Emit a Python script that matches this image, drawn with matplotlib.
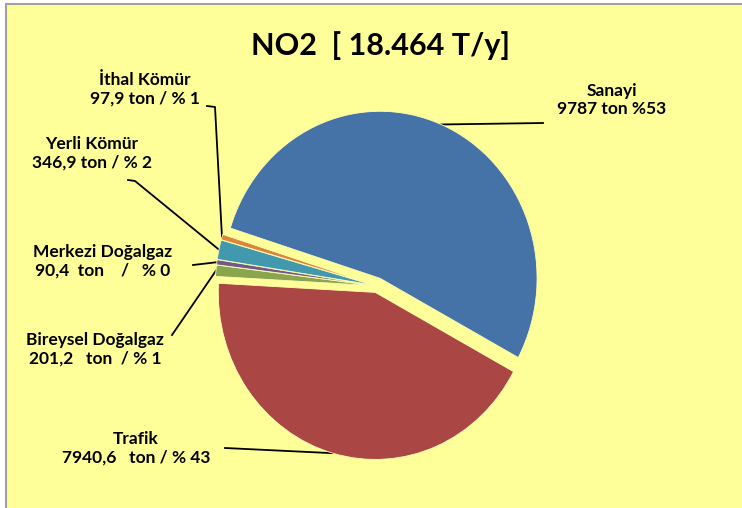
import numpy as np
import matplotlib
matplotlib.use("Agg")
import matplotlib.pyplot as plt
from matplotlib.patches import Rectangle

plt.rcParams['font.family'] = ['Lato', 'DejaVu Sans']

# data
sources = ['Sanayi', 'Trafik', 'Bireysel Doğalgaz', 'Merkezi Doğalgaz', 'Yerli Kömür', 'İthal Kömür']
tons = [9787, 7940.6, 201.2, 90.4, 346.9, 97.9]
value_text = ['9787 ton %53', '7940,6   ton / % 43', '201,2   ton  / % 1',
              '90,4  ton    /   % 0', '346,9 ton / % 2', '97,9 ton / % 1']
colors = ['#4572A7', '#AA4643', '#89A54E', '#71588F', '#4198AF', '#DB843D']
explode = [0.05, 0.04, 0.03, 0.03, 0.03, 0.03]
title = 'NO2  [ 18.464 T/y]'

# layout in pixels (from top-left)
W, H = 742, 508
label_pos = [(612, 100), (136, 448), (95, 349), (103, 261), (92, 153), (145, 89)]
leader_start = [[(543, 123)], [(225, 448)], [(172, 335)], [(193, 265)],
                [(128, 180), (135, 181)], [(207, 106), (215, 107)]]

fig = plt.figure(figsize=(W / 100, H / 100), dpi=100)
fig.patch.set_facecolor('white')

# background axes in pixel coordinates
bg = fig.add_axes([0, 0, 1, 1], zorder=0)
bg.set_xlim(0, W)
bg.set_ylim(H, 0)
bg.axis('off')
bg.add_patch(Rectangle((6, 4), W, H, facecolor='#FFFF99', edgecolor='#A0A0A0', lw=1.5))

# pie axes: slightly taller than wide like the original
cx, cy = 377, 286
rx, ry = 157, 167
k = 1.2
ax = fig.add_axes([(cx - k * rx) / W, (H - cy - k * ry) / H, 2 * k * rx / W, 2 * k * ry / H], zorder=1)
wedges, _ = ax.pie(tons, colors=colors, explode=explode, startangle=162.5, counterclock=False,
                   wedgeprops=dict(edgecolor='#FFFFB0', linewidth=0.6))
ax.set_aspect('auto')
ax.set_xlim(-k, k)
ax.set_ylim(-k, k)
ax.patch.set_alpha(0)

fig.text(380 / W, 1 - 46 / H, title, ha='center', va='center', fontsize=22,
         fontweight='bold', color='black')

inv = bg.transData.inverted()
for i, w in enumerate(wedges):
    th = np.deg2rad((w.theta1 + w.theta2) / 2)
    x0, y0 = w.center
    rim = inv.transform(ax.transData.transform((x0 + w.r * np.cos(th), y0 + w.r * np.sin(th))))
    pts = leader_start[i] + [tuple(rim)]
    bg.plot([p[0] for p in pts], [p[1] for p in pts], color='black', lw=1.3, zorder=3)
    lx, ly = label_pos[i]
    bg.text(lx, ly, sources[i] + '\n' + value_text[i], ha='center', va='center',
            fontsize=12.5, fontweight='bold', linespacing=1.2, color='black')

fig.savefig('out.png', dpi=100)
